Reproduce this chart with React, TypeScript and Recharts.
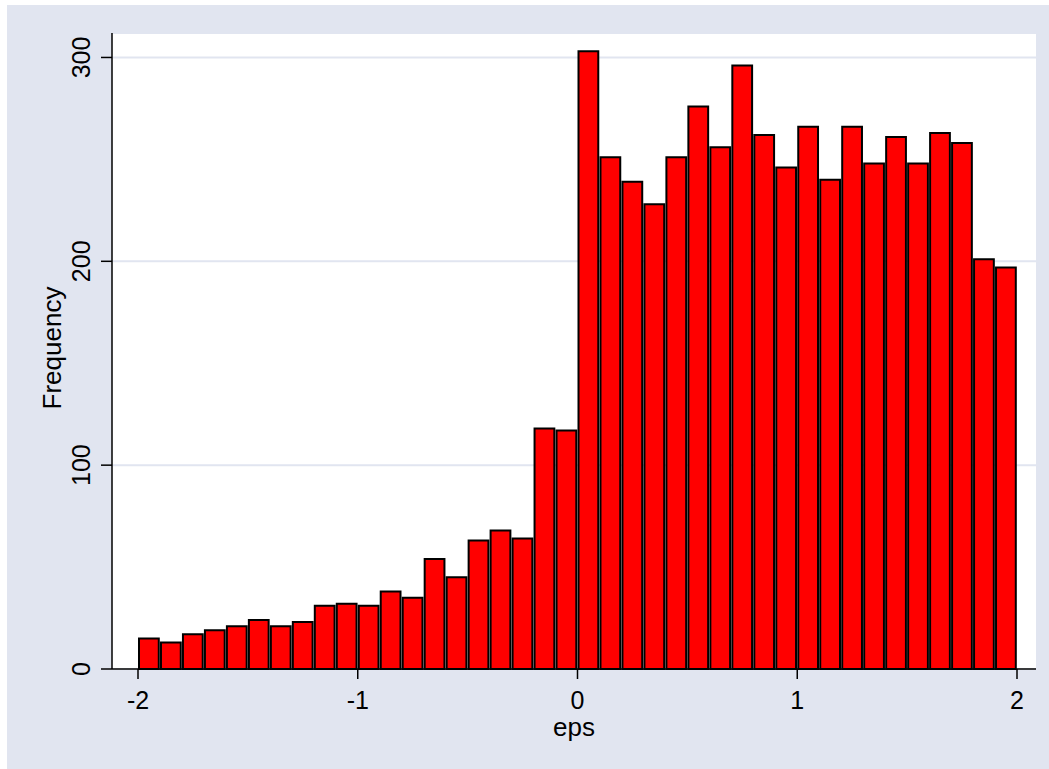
import { BarChart, Bar, XAxis, YAxis, CartesianGrid, Label } from 'recharts';

// histogram of eps, 40 bins of width 0.1 from -2 to 2
const binMids = [
  -1.95, -1.85, -1.75, -1.65, -1.55, -1.45, -1.35, -1.25, -1.15, -1.05,
  -0.95, -0.85, -0.75, -0.65, -0.55, -0.45, -0.35, -0.25, -0.15, -0.05,
  0.05, 0.15, 0.25, 0.35, 0.45, 0.55, 0.65, 0.75, 0.85, 0.95,
  1.05, 1.15, 1.25, 1.35, 1.45, 1.55, 1.65, 1.75, 1.85, 1.95,
];
const frequency = [
  15, 13, 17, 19, 21, 24, 21, 23, 31, 32,
  31, 38, 35, 54, 45, 63, 68, 64, 118, 117,
  303, 251, 239, 228, 251, 276, 256, 296, 262, 246,
  266, 240, 266, 248, 261, 248, 263, 258, 201, 197,
];
const xTicks = [-2, -1, 0, 1, 2];
const yTicks = [0, 100, 200, 300];

const data = binMids.map((m, i) => ({ eps: m, freq: frequency[i] }));

const FONT = '"Liberation Sans", Arial, Helvetica, sans-serif';
const BG = '#e1e5f0';

const XTick = (props: any) => {
  const { x, y, payload } = props;
  return (
    <text x={x} y={y} textAnchor="middle" fontFamily={FONT} fontSize={25} fill="#000">
      {payload.value}
    </text>
  );
};

const YTick = (props: any) => {
  const { x, y, payload } = props;
  return (
    <text
      x={x}
      y={y}
      transform={`rotate(-90 ${x} ${y})`}
      textAnchor="middle"
      fontFamily={FONT}
      fontSize={25}
      fill="#000"
    >
      {payload.value}
    </text>
  );
};

const App = () => {
  return (
    <div style={{ position: 'absolute', left: 0, top: 0, width: 1049, height: 769, background: '#fff' }}>
      <div style={{ position: 'absolute', left: 7, top: 5, width: 1042, height: 764, background: BG }} />
      <div style={{ position: 'absolute', left: 0, top: 0 }}>
        <BarChart
          width={1049}
          height={769}
          data={data}
          margin={{ top: 33, right: 13, left: 0, bottom: 0 }}
          barGap={0}
          barCategoryGap={0}
        >
          <CartesianGrid vertical={false} fill="#fff" stroke={BG} strokeWidth={2} />
          <XAxis
            dataKey="eps"
            type="number"
            domain={[-2, 2]}
            ticks={xTicks}
            padding={{ left: 26, right: 19 }}
            height={100}
            tickSize={10}
            tickMargin={30}
            tick={<XTick />}
            axisLine={{ stroke: '#000', strokeWidth: 1.5 }}
            tickLine={{ stroke: '#000', strokeWidth: 1.5 }}
            interval={0}
          >
            <Label
              content={({ viewBox }: any) => (
                <text
                  x={viewBox.x + viewBox.width / 2}
                  y={viewBox.y + 67}
                  textAnchor="middle"
                  fontFamily={FONT}
                  fontSize={26}
                  fill="#000"
                >
                  eps
                </text>
              )}
            />
          </XAxis>
          <YAxis
            type="number"
            domain={[0, 312]}
            ticks={yTicks}
            width={112}
            tickSize={11}
            tickMargin={11}
            tick={<YTick />}
            axisLine={{ stroke: '#000', strokeWidth: 1.5 }}
            tickLine={{ stroke: '#000', strokeWidth: 1.5 }}
            interval={0}
          >
            <Label
              content={({ viewBox }: any) => {
                const cx = 61;
                const cy = viewBox.y + viewBox.height / 2 - 3;
                return (
                  <text
                    x={cx}
                    y={cy}
                    transform={`rotate(-90 ${cx} ${cy})`}
                    textAnchor="middle"
                    fontFamily={FONT}
                    fontSize={26}
                    fill="#000"
                  >
                    Frequency
                  </text>
                );
              }}
            />
          </YAxis>
          <Bar
            dataKey="freq"
            fill="#ff0000"
            stroke="#000"
            strokeWidth={2}
            barSize={22}
            isAnimationActive={false}
          />
        </BarChart>
      </div>
    </div>
  );
};

export default App;
